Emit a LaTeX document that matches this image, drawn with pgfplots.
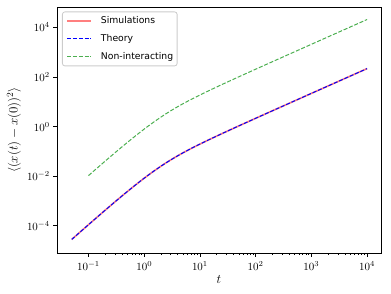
\RequirePackage{fix-cm}
\documentclass[border=0pt]{standalone}
\usepackage{fontspec}
\newfontfamily\dejavu{DejaVu Sans}
\usepackage{pgfplots}
\pgfplotsset{compat=1.18}
\definecolor{simred}{HTML}{FF7F7F}
\definecolor{nigreen}{HTML}{4CAF50}
\begin{document}
\begin{tikzpicture}
\begin{axis}[
  scale only axis, width=324bp, height=246bp,
  xmode=log, ymode=log,
  xmin=0.0272, xmax=17800, ymin=8.07e-6, ymax=6.71e4,
  xtick={1e-1,1,1e1,1e2,1e3,1e4},
  ytick={1e-4,1e-2,1,1e2,1e4},
  yminorticks=false,
  tick align=outside,
  xtick pos=bottom, ytick pos=left,
  major tick length=3.8bp, minor tick length=2.2bp,
  every tick/.style={black, line width=0.8bp},
  every minor tick/.style={black, line width=0.6bp},
  axis line style={line width=0.88bp},
  ticklabel style={font=\fontsize{11}{13}\selectfont},
  xticklabel style={yshift=-1bp},
  xlabel={$t$}, ylabel={$\langle (x(t)-x(0))^2\rangle$},
  label style={font=\fontsize{13}{15}\selectfont},
  xlabel style={at={(axis description cs:0.5,-0.078)}, anchor=north},
  ylabel style={at={(axis description cs:-0.133,0.5)}, anchor=center},
  legend cell align=left,
  legend image code/.code={\draw[#1] (0bp,0bp) -- (24bp,0bp);},
  legend style={at={(axis description cs:0,1)}, anchor=north west,
    xshift=5bp, yshift=-4.5bp,
    draw=black!20, line width=0.8bp, rounded corners=2.5bp,
    fill=white, fill opacity=0.8, text opacity=1,
    inner xsep=4bp, inner ysep=4.5bp,
    font=\dejavu\fontsize{9.3}{11}\selectfont,
    nodes={inner sep=0pt, text height=7bp, text depth=2bp},
    row sep=9bp, column sep=9bp},
]
\coordinate (SW) at (rel axis cs:0,0);
\coordinate (NE) at (rel axis cs:1,1);
\addplot[simred, line width=1.6bp] coordinates {
(0.05,2.845e-5) (0.07,5.537e-5) (0.1,1.1183e-4) (0.15,2.4734e-4) (0.2,4.323e-4)
(0.3,9.405e-4) (0.4,1.6178e-3) (0.5,2.4473e-3) (0.7,4.5032e-3) (0.85,6.3421e-3)
(1,8.3945e-3) (1.2,1.1410e-2) (1.5,1.6409e-2) (2,2.5646e-2) (2.5,3.5604e-2)
(3,4.5989e-2) (4,6.7410e-2) (5,8.9208e-2) (7,0.133113) (10,0.199101)
(15,0.3091) (20,0.4191) (30,0.6391) (50,1.0791) (100,2.1791) (200,4.3791)
(500,10.979) (1000,21.979) (2000,43.979) (5000,109.979) (10000,219.979)
};
\addlegendentry{Simulations}
\addplot[blue, line width=1bp, dash pattern=on 4bp off 1.8bp] coordinates {
(0.05,2.845e-5) (0.07,5.537e-5) (0.1,1.1183e-4) (0.15,2.4734e-4) (0.2,4.323e-4)
(0.3,9.405e-4) (0.4,1.6178e-3) (0.5,2.4473e-3) (0.7,4.5032e-3) (0.85,6.3421e-3)
(1,8.3945e-3) (1.2,1.1410e-2) (1.5,1.6409e-2) (2,2.5646e-2) (2.5,3.5604e-2)
(3,4.5989e-2) (4,6.7410e-2) (5,8.9208e-2) (7,0.133113) (10,0.199101)
(15,0.3091) (20,0.4191) (30,0.6391) (50,1.0791) (100,2.1791) (200,4.3791)
(500,10.979) (1000,21.979) (2000,43.979) (5000,109.979) (10000,219.979)
};
\addlegendentry{Theory}
\addplot[nigreen, line width=1bp, dash pattern=on 4bp off 1.8bp] coordinates {
(0.1,0.010675) (0.15,0.023609) (0.2,0.041265) (0.3,0.089779) (0.4,0.154428)
(0.5,0.233602) (0.7,0.429853) (0.85,0.605386) (1,0.801291) (1.2,1.089104)
(1.5,1.566352) (2,2.448016) (2.5,3.398571) (3,4.389817) (4,6.434604)
(5,8.515332) (7,12.706256) (10,19.005055) (15,29.505) (20,40.005) (30,61.005)
(50,103.005) (100,208.005) (200,418.005) (500,1048.005) (1000,2098.005)
(2000,4198.005) (5000,10498.0) (10000,20998.0)
};
\addlegendentry{Non-interacting}
\end{axis}
\pgfresetboundingbox
\path ([shift={(-57bp,-41bp)}]SW) rectangle ([shift={(10bp,7bp)}]NE);
\end{tikzpicture}
\end{document}
